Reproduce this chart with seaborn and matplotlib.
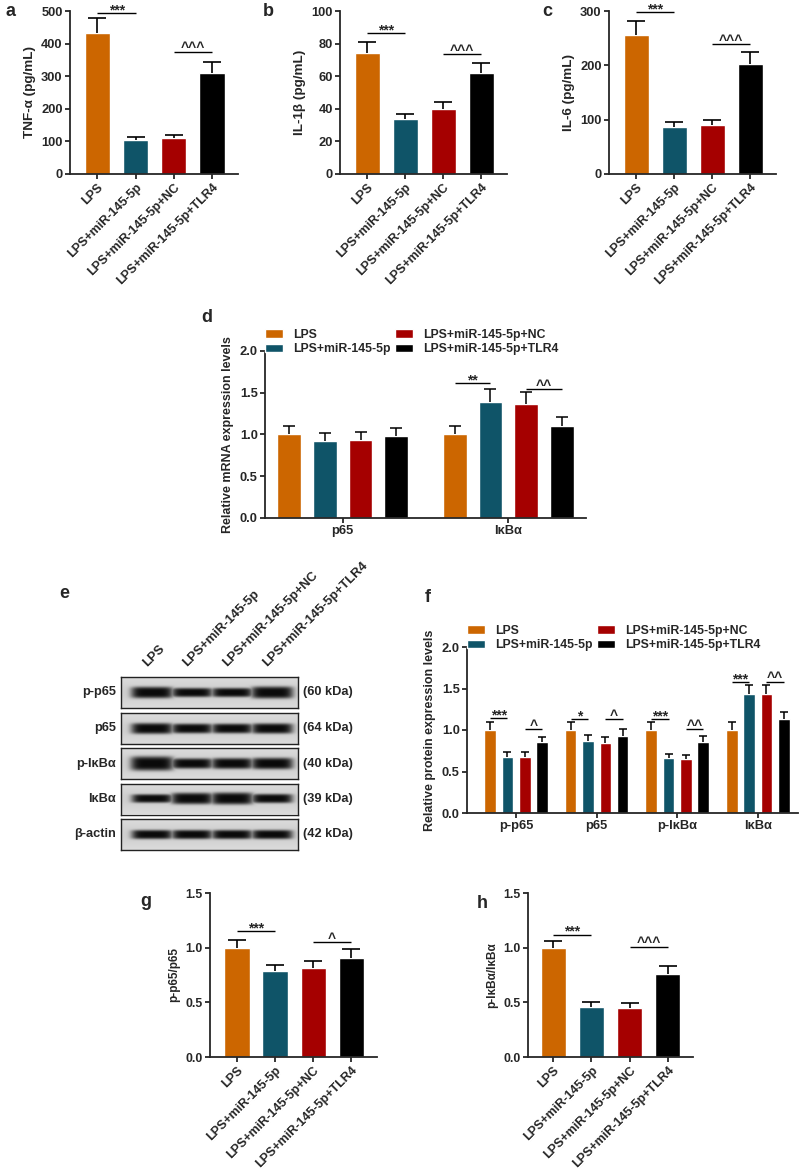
import numpy as np
import pandas as pd
import matplotlib
matplotlib.use('Agg')
import matplotlib.pyplot as plt
from matplotlib.ticker import FormatStrFormatter
from matplotlib.container import BarContainer
import seaborn as sns

# ---------------- data ----------------
groups = ['LPS', 'LPS+miR-145-5p', 'LPS+miR-145-5p+NC', 'LPS+miR-145-5p+TLR4']
colors = ['#CC6600', '#0F5468', '#A50000', '#000000']

tnf_mean = [432, 103, 110, 311]
tnf_sem = [45, 11, 11, 32]
il1b_mean = [74, 34, 40, 62]
il1b_sem = [7, 3, 4, 6]
il6_mean = [256, 87, 91, 203]
il6_sem = [25, 8, 9, 21]

mrna_genes = ['p65', 'IκBα']
mrna_mean = [[1.00, 1.00], [0.92, 1.39], [0.93, 1.37], [0.98, 1.10]]
mrna_sem = [[0.10, 0.10], [0.10, 0.15], [0.10, 0.14], [0.10, 0.11]]

prot_genes = ['p-p65', 'p65', 'p-IκBα', 'IκBα']
prot_mean = [[1.00, 1.00, 1.00, 1.00],
             [0.68, 0.87, 0.66, 1.43],
             [0.68, 0.84, 0.65, 1.43],
             [0.85, 0.93, 0.86, 1.13]]
prot_sem = [[0.10, 0.10, 0.10, 0.10],
            [0.05, 0.07, 0.05, 0.11],
            [0.05, 0.07, 0.05, 0.11],
            [0.07, 0.08, 0.07, 0.09]]

p65_ratio_mean = [1.00, 0.79, 0.81, 0.91]
p65_ratio_sem = [0.07, 0.05, 0.07, 0.08]
ikb_ratio_mean = [1.00, 0.46, 0.45, 0.76]
ikb_ratio_sem = [0.06, 0.04, 0.04, 0.07]

# significance: (group index A, group index B, y, label)
sig_tnf = [(0, 1, 494, '***'), (2, 3, 374, '^^^')]
sig_il1b = [(0, 1, 86.5, '***'), (2, 3, 73.5, '^^^')]
sig_il6 = [(0, 1, 298, '***'), (2, 3, 239, '^^^')]
sig_mrna = [(1, 0, 1, 1.62, '**'), (1, 2, 3, 1.54, '^^')]  # (gene, A, B, y, label)
sig_prot = [(0, 0, 1, 1.145, '***'), (0, 2, 3, 1.01, '^'),
            (1, 0, 1, 1.13, '*'), (1, 2, 3, 1.13, '^'),
            (2, 0, 1, 1.13, '***'), (2, 2, 3, 1.01, '^^'),
            (3, 0, 1, 1.58, '***'), (3, 2, 3, 1.58, '^^')]
sig_p65_ratio = [(0, 1, 1.15, '***'), (2, 3, 1.05, '^')]
sig_ikb_ratio = [(0, 1, 1.12, '***'), (2, 3, 1.01, '^^^')]

blot_rows = ['p-p65', 'p65', 'p-IκBα', 'IκBα', 'β-actin']
blot_kda = ['(60 kDa)', '(64 kDa)', '(40 kDa)', '(39 kDa)', '(42 kDa)']
blot_band = [[1.00, 0.80, 0.80, 1.05],
             [0.95, 0.85, 0.85, 0.90],
             [1.25, 0.90, 0.95, 1.00],
             [0.75, 1.00, 1.05, 0.80],
             [0.80, 0.80, 0.80, 0.80]]

# ---------------- style ----------------
sns.set_style('ticks')
plt.rcParams['font.family'] = ['Liberation Sans', 'DejaVu Sans']
plt.rcParams['font.weight'] = 'bold'
plt.rcParams['axes.labelweight'] = 'bold'
plt.rcParams['axes.linewidth'] = 1.3
plt.rcParams['xtick.major.width'] = 1.3
plt.rcParams['ytick.major.width'] = 1.3
plt.rcParams['xtick.major.size'] = 3.8
plt.rcParams['ytick.major.size'] = 3.8

W, H = 800, 1173
fig = plt.figure(figsize=(W / 100, H / 100), dpi=100)


def px_axes(x0, y0, x1, y1):
    return fig.add_axes([x0 / W, 1 - y1 / H, (x1 - x0) / W, (y1 - y0) / H])


def letter(x, y, s):
    fig.text(x / W, 1 - y / H, s, fontsize=13, fontweight='bold', ha='center', va='center')


def draw_sig(ax, x0, x1, y, txt):
    ax.plot([x0, x1], [y, y], color='black', lw=1.0, clip_on=False, solid_capstyle='butt')
    dy = -1.0 if txt.startswith('*') else -0.3
    ax.annotate(txt, ((x0 + x1) / 2, y), xytext=(0, dy), textcoords='offset points',
                ha='center', va='baseline', fontsize=10, fontweight='bold',
                annotation_clip=False)


def one_sided_errorbar(ax, xs, means, sems, lw, capsize):
    eb = ax.errorbar(xs, means, yerr=[np.zeros(len(means)), sems], fmt='none', ecolor='black',
                     elinewidth=lw, capsize=capsize, capthick=lw)
    for cl in eb[1]:
        if np.allclose(np.asarray(cl.get_ydata(), dtype=float), np.asarray(means, dtype=float)):
            cl.set_visible(False)


def style_axes(ax, ytick_fs, xtick_fs):
    sns.despine(ax=ax)
    ax.tick_params(axis='both', direction='out', pad=1.5)
    ax.tick_params(axis='y', labelsize=ytick_fs)
    ax.tick_params(axis='x', labelsize=xtick_fs)


def single_panel(ax, means, sems, ylabel, yticks, sigs, fmt=None, xlim=(-0.72, 3.68),
                 ytick_fs=9.3, xtick_fs=9, ylabel_fs=9.7):
    df = pd.DataFrame({'grp': groups, 'val': means})
    sns.barplot(data=df, x='grp', y='val', hue='grp', order=groups, hue_order=groups,
                palette=colors, width=0.66, saturation=1, errorbar=None, legend=False, ax=ax)
    xs = np.arange(len(groups))
    one_sided_errorbar(ax, xs, means, sems, 1.2, 6.5)
    ax.set_xlim(*xlim)
    ax.set_ylim(yticks[0], yticks[-1])
    ax.set_yticks(yticks)
    if fmt:
        ax.yaxis.set_major_formatter(FormatStrFormatter(fmt))
    ax.set_ylabel(ylabel, fontsize=ylabel_fs)
    ax.set_xlabel('')
    ax.set_xticks(xs)
    ax.set_xticklabels(groups, rotation=45, ha='right', rotation_mode='anchor')
    for a, b, y, t in sigs:
        draw_sig(ax, xs[a], xs[b], y, t)
    style_axes(ax, ytick_fs, xtick_fs)


def grouped_panel(ax, genes, means, sems, ylabel, sigs, xlim, capsize):
    rows = []
    for gi, g in enumerate(groups):
        for ki, gene in enumerate(genes):
            rows.append({'gene': gene, 'grp': g, 'val': means[gi][ki]})
    df = pd.DataFrame(rows)
    sns.barplot(data=df, x='gene', y='val', hue='grp', order=genes, hue_order=groups,
                palette=colors, width=0.86, gap=0.33, saturation=1, errorbar=None, ax=ax)
    bars = [c for c in ax.containers if isinstance(c, BarContainer)]
    centers = []
    for gi, cont in enumerate(bars):
        cx = [p.get_x() + p.get_width() / 2 for p in cont.patches]
        centers.append(cx)
        one_sided_errorbar(ax, cx, means[gi], sems[gi], 1.1, capsize)
    handles = [cont.patches[0] for cont in bars]
    ax.legend(handles, groups, ncol=2, loc='lower left', bbox_to_anchor=(0.0, 0.975),
              frameon=False, prop={'weight': 'bold', 'size': 8.8}, handlelength=1.5,
              handleheight=0.7, handletextpad=0.8, columnspacing=0.35, labelspacing=0.2,
              borderpad=0, borderaxespad=0)
    ax.set_xlim(*xlim)
    ax.set_ylim(0, 2.0)
    ax.set_yticks([0, 0.5, 1.0, 1.5, 2.0])
    ax.yaxis.set_major_formatter(FormatStrFormatter('%.1f'))
    ax.set_ylabel(ylabel, fontsize=9.0)
    ax.set_xlabel('')
    for ki, a, b, y, t in sigs:
        draw_sig(ax, centers[a][ki], centers[b][ki], y, t)
    style_axes(ax, 9.3, 9.3)


# ---------------- top row ----------------
ax_a = px_axes(70, 11, 238, 174)
single_panel(ax_a, tnf_mean, tnf_sem, 'TNF-α (pg/mL)', [0, 100, 200, 300, 400, 500], sig_tnf)
ax_b = px_axes(340, 11, 507, 174)
single_panel(ax_b, il1b_mean, il1b_sem, 'IL-1β (pg/mL)', [0, 20, 40, 60, 80, 100], sig_il1b)
ax_c = px_axes(609, 11, 776, 174)
single_panel(ax_c, il6_mean, il6_sem, 'IL-6 (pg/mL)', [0, 100, 200, 300], sig_il6)

# ---------------- d ----------------
ax_d = px_axes(265, 351, 586, 518)
grouped_panel(ax_d, mrna_genes, mrna_mean, mrna_sem, 'Relative mRNA expression levels',
              sig_mrna, (-0.47, 1.47), 4.5)

# ---------------- e (western blot) ----------------
lane_x = np.linspace(0.175, 0.855, 4)
xg = np.linspace(0, 1, 360)[None, :]
yg = np.linspace(-1, 1, 64)[:, None]
bx0, bx1 = 121, 298
top0, pitch, bh = 677, 35.5, 31
for r, name in enumerate(blot_rows):
    t = top0 + r * pitch
    axb = px_axes(bx0, t, bx1, t + bh)
    dark = np.zeros((yg.shape[0], xg.shape[1]))
    for li, s in enumerate(blot_band[r]):
        hx = 0.118 * (0.9 + 0.1 * s)
        hy = 0.37 * s
        dark = np.maximum(dark, np.exp(-((xg - lane_x[li]) / hx) ** 6) * np.exp(-(yg / hy) ** 4))
    halo = np.exp(-(yg / 0.8) ** 2) * 0.06
    img = (0.87 - halo) * (1 - 0.95 * dark)
    axb.imshow(img, cmap='gray', vmin=0, vmax=1, aspect='auto', extent=[0, 1, -1, 1],
               interpolation='bilinear')
    axb.set_xticks([])
    axb.set_yticks([])
    for sp in axb.spines.values():
        sp.set_linewidth(1.0)
        sp.set_color('#222222')
    fig.text(116 / W, 1 - (t + bh / 2) / H, name, ha='right', va='center', fontsize=9.2,
             fontweight='bold')
    fig.text(303 / W, 1 - (t + bh / 2) / H, blot_kda[r], ha='left', va='center', fontsize=9.2,
             fontweight='bold')
for li, g in enumerate(groups):
    lx = bx0 + lane_x[li] * (bx1 - bx0) - 3
    fig.text(lx / W, 1 - 669 / H, g, rotation=45, ha='left', va='bottom',
             rotation_mode='anchor', fontsize=9.4, fontweight='bold')

# ---------------- f ----------------
ax_f = px_axes(467, 647, 798, 813)
grouped_panel(ax_f, prot_genes, prot_mean, prot_sem, 'Relative protein expression levels',
              sig_prot, (-0.61, 3.5), 3.0)

# ---------------- g, h ----------------
ax_g = px_axes(210, 893, 377, 1057)
single_panel(ax_g, p65_ratio_mean, p65_ratio_sem, 'p-p65/p65', [0, 0.5, 1.0, 1.5],
             sig_p65_ratio, fmt='%.1f', xlim=(-0.71, 3.68), ytick_fs=8.8, xtick_fs=9,
             ylabel_fs=8.5)
ax_h = px_axes(528, 893, 693, 1057)
single_panel(ax_h, ikb_ratio_mean, ikb_ratio_sem, 'p-IκBα/IκBα', [0, 0.5, 1.0, 1.5],
             sig_ikb_ratio, fmt='%.1f', xlim=(-0.66, 3.66), ytick_fs=8.8, xtick_fs=9,
             ylabel_fs=8.5)

# ---------------- panel letters ----------------
letter(10, 11, 'a')
letter(268, 11, 'b')
letter(547, 12, 'c')
letter(207, 318, 'd')
letter(64, 593, 'e')
letter(428, 597, 'f')
letter(146, 902, 'g')
letter(482, 903, 'h')

fig.savefig('out.png', dpi=100, facecolor='white')
